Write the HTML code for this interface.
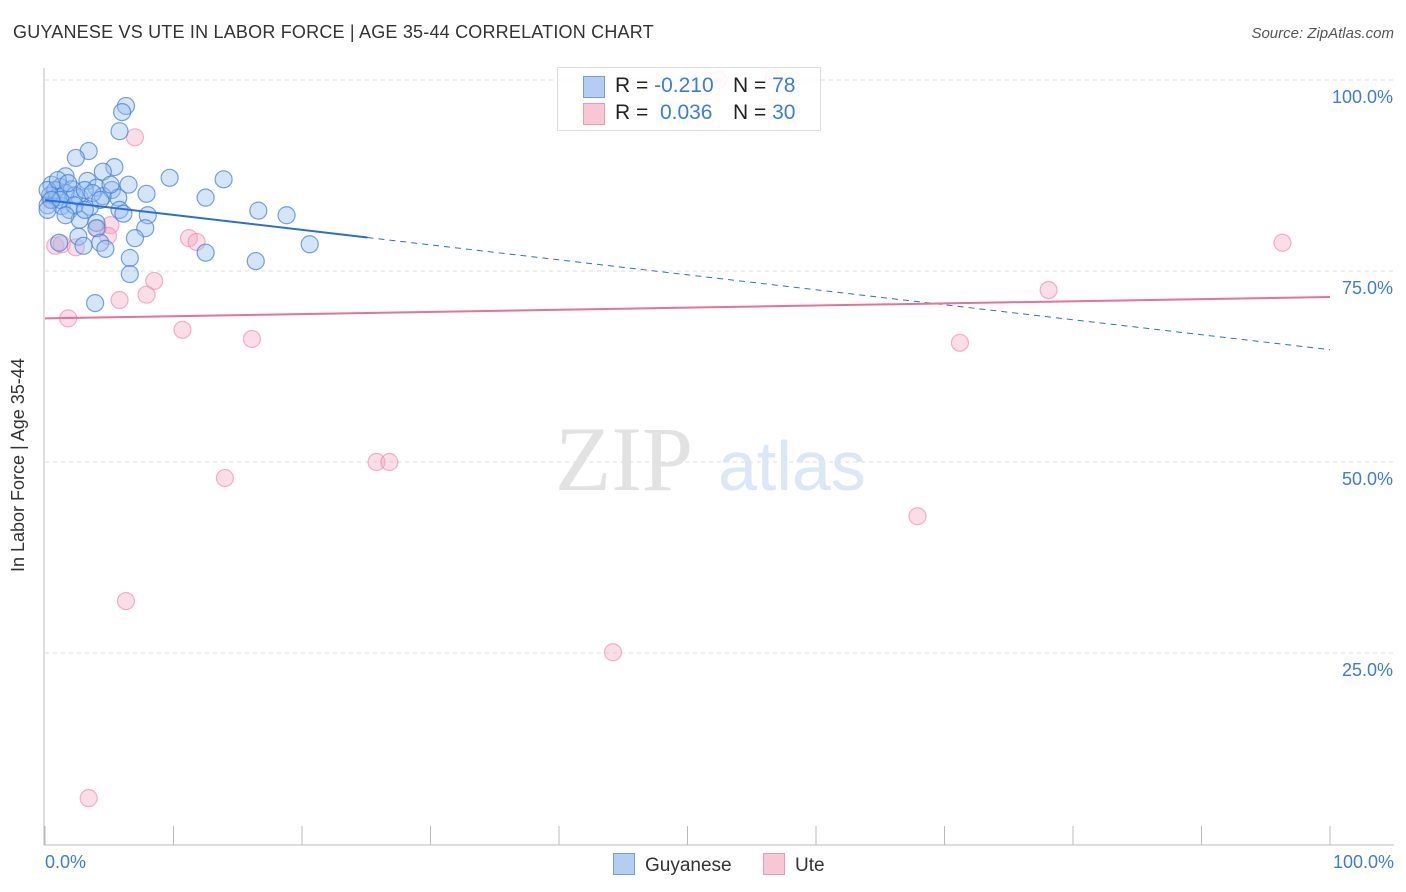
<!DOCTYPE html>
<html><head><meta charset="utf-8"><style>
body{margin:0;background:#fff;font-family:"Liberation Sans",sans-serif;}
#wrap{position:relative;width:1406px;height:892px;overflow:hidden;}
.t{position:absolute;white-space:nowrap;}
</style></head><body>
<div id="wrap">
<div class="t" style="left:13px;top:22px;font-size:18px;color:#333;letter-spacing:0.2px;">GUYANESE VS UTE IN LABOR FORCE | AGE 35-44 CORRELATION CHART</div>
<div class="t" style="right:12px;top:25px;font-size:15px;color:#555;font-style:italic;">Source: ZipAtlas.com</div>
<svg id="svg" width="1406" height="892" style="position:absolute;left:0;top:0"></svg>
<div class="t" style="left:8px;top:572px;transform:rotate(-90deg);transform-origin:left top;font-size:18px;color:#333;">In Labor Force | Age 35-44</div>
<div class="t" style="left:45px;top:852px;font-size:18px;color:#3b7dd8;">0.0%</div>
<div class="t" style="right:12px;top:852px;font-size:18px;color:#3b7dd8;">100.0%</div>
<div style="position:absolute;left:557px;top:67px;width:262px;height:62px;border:1px solid #ddd;background:rgba(255,255,255,0.85);font-size:21px;color:#222;">
 <div style="position:absolute;left:25px;top:8px;width:20px;height:20px;background:#b3cdf3;border:1px solid #6f9de0;"></div>
 <div class="t" style="left:57px;top:6px;">R = <span style="color:#3b7dd8">-0.210</span></div>
 <div class="t" style="left:175px;top:6px;">N = <span style="color:#3b7dd8">78</span></div>
 <div style="position:absolute;left:25px;top:35px;width:20px;height:20px;background:#f9c6d5;border:1px solid #ee9ab4;"></div>
 <div class="t" style="left:57px;top:33px;">R = &nbsp;<span style="color:#3b7dd8">0.036</span></div>
 <div class="t" style="left:175px;top:33px;">N = <span style="color:#3b7dd8">30</span></div>
</div>
<div style="position:absolute;left:613px;top:853px;font-size:19px;color:#333;"><span style="display:inline-block;width:20px;height:20px;background:#b3cdf3;border:1px solid #6f9de0;vertical-align:-4px;margin-right:10px"></span>Guyanese</div>
<div style="position:absolute;left:763px;top:853px;font-size:19px;color:#333;"><span style="display:inline-block;width:20px;height:20px;background:#f9c6d5;border:1px solid #ee9ab4;vertical-align:-4px;margin-right:10px"></span>Ute</div>
</div>
<script>
const blueX=[6.3,6.0,5.8,3.4,2.4,5.4,4.5,9.7,13.9,1.6,3.3,6.5,0.5,1.2,2.1,4.0,5.2,7.9,12.5,0.4,0.9,2.7,4.5,5.7,0.2,1.3,1.9,3.5,5.8,16.6,18.8,8.0,6.1,2.7,4.0,7.8,4.0,2.6,7.0,1.1,4.3,3.0,20.6,4.7,12.5,6.6,16.4,6.6,3.9,0.8,1.6,2.3,3.1,0.2,1.0,1.8,3.7,5.1,1.2,0.5,2.3,4.3,0.2,1.6,3.1];
const blueY=[96.6,95.8,93.3,90.7,89.8,88.6,88.0,87.2,87.0,87.4,86.8,86.3,86.3,86.0,85.7,85.9,85.6,85.1,84.6,84.9,84.6,84.6,84.8,84.6,83.6,83.5,83.0,83.4,83.0,82.9,82.3,82.3,82.5,81.7,81.3,80.6,80.6,79.5,79.3,78.7,78.7,78.3,78.5,77.9,77.4,76.7,76.3,74.6,70.8,85.6,85.2,84.9,85.6,85.6,86.9,86.5,85.2,86.3,84.3,84.3,83.6,84.3,83.0,82.3,83.0];
const pinkX=[0.8,1.3,2.4,1.8,7.0,5.1,4.9,4.1,11.2,11.8,8.5,7.9,5.8,10.7,16.1,14.0,25.8,26.8,6.3,44.2,3.4,52.4,56.7,67.9,71.2,78.1,96.3,0.4];
const pinkY=[78.3,78.5,78.1,68.8,92.5,81.0,79.6,80.6,79.3,78.8,73.7,71.9,71.2,67.3,66.1,47.9,50.0,50.0,31.8,25.1,6.0,100.0,100.3,42.9,65.6,72.5,78.7,84.3];
const blueTrend=[84.3,64.7]; const blueSolidEnd=25.1;
const pinkTrend=[68.8,71.6];
const yTicks=[100,75,50,25];
const yTickLabels=["100.0%","75.0%","50.0%","25.0%"];
const xTicks=[0,10,20,30,40,50,60,70,80,90,100];
const X=v=>45+v*12.85, Y=v=>844-v*7.64;
const svg=document.getElementById('svg'),NS='http://www.w3.org/2000/svg';
function mk(t,a,p){const e=document.createElementNS(NS,t);for(const k in a)e.setAttribute(k,a[k]);(p||svg).appendChild(e);return e;}
yTicks.forEach((v,i)=>{
 const g=mk('line',{x1:45,x2:1394,y1:Y(v),y2:Y(v),stroke:'#ddd','stroke-dasharray':'4,4'});
 
 
 const t=mk('text',{x:1393,y:Y(v)+23,'text-anchor':'end','font-size':18,fill:'#3b7dd8','font-family':'Liberation Sans'});
 t.textContent=yTickLabels[i];
 
 
});
const wm=mk('text',{x:555,y:490,'font-size':92,fill:'#e2e2e2','font-family':'Liberation Serif'});wm.textContent='ZIP';


const wm2=mk('text',{x:718,y:490,'font-size':70,fill:'#dbe6f6','font-family':'Liberation Sans'});wm2.textContent='atlas';


const ax=mk('line',{x1:44,x2:44,y1:68,y2:845,stroke:'#bbb'});


const bx=mk('line',{x1:44,x2:1394,y1:845,y2:845,stroke:'#bbb'});


xTicks.forEach(v=>{const l=mk('line',{x1:X(v),x2:X(v),y1:826,y2:845,stroke:'#bbb'});
 
 });
pinkX.forEach((v,i)=>{const c=mk('circle',{cx:X(v),cy:Y(pinkY[i]),r:8.5,fill:'rgba(246,170,195,0.4)',stroke:'rgba(236,130,165,0.6)','stroke-width':1.2});
 
 });
blueX.forEach((v,i)=>{const c=mk('circle',{cx:X(v),cy:Y(blueY[i]),r:8.5,fill:'rgba(150,190,240,0.4)',stroke:'rgba(60,125,215,0.7)','stroke-width':1.2});
 
 });
const by=x=>blueTrend[0]+(blueTrend[1]-blueTrend[0])*x/100;
const l1=mk('line',{x1:X(0),y1:Y(by(0)),x2:X(blueSolidEnd),y2:Y(by(blueSolidEnd)),stroke:'#2a6fd6','stroke-width':2});


const l2=mk('line',{x1:X(blueSolidEnd),y1:Y(by(blueSolidEnd)),x2:X(100),y2:Y(by(100)),stroke:'#2a6fd6','stroke-width':1,'stroke-dasharray':'6,5'});


const l3=mk('line',{x1:X(0),y1:Y(pinkTrend[0]),x2:X(100),y2:Y(pinkTrend[1]),stroke:'#e8709a','stroke-width':2});


</script>
</body></html>
